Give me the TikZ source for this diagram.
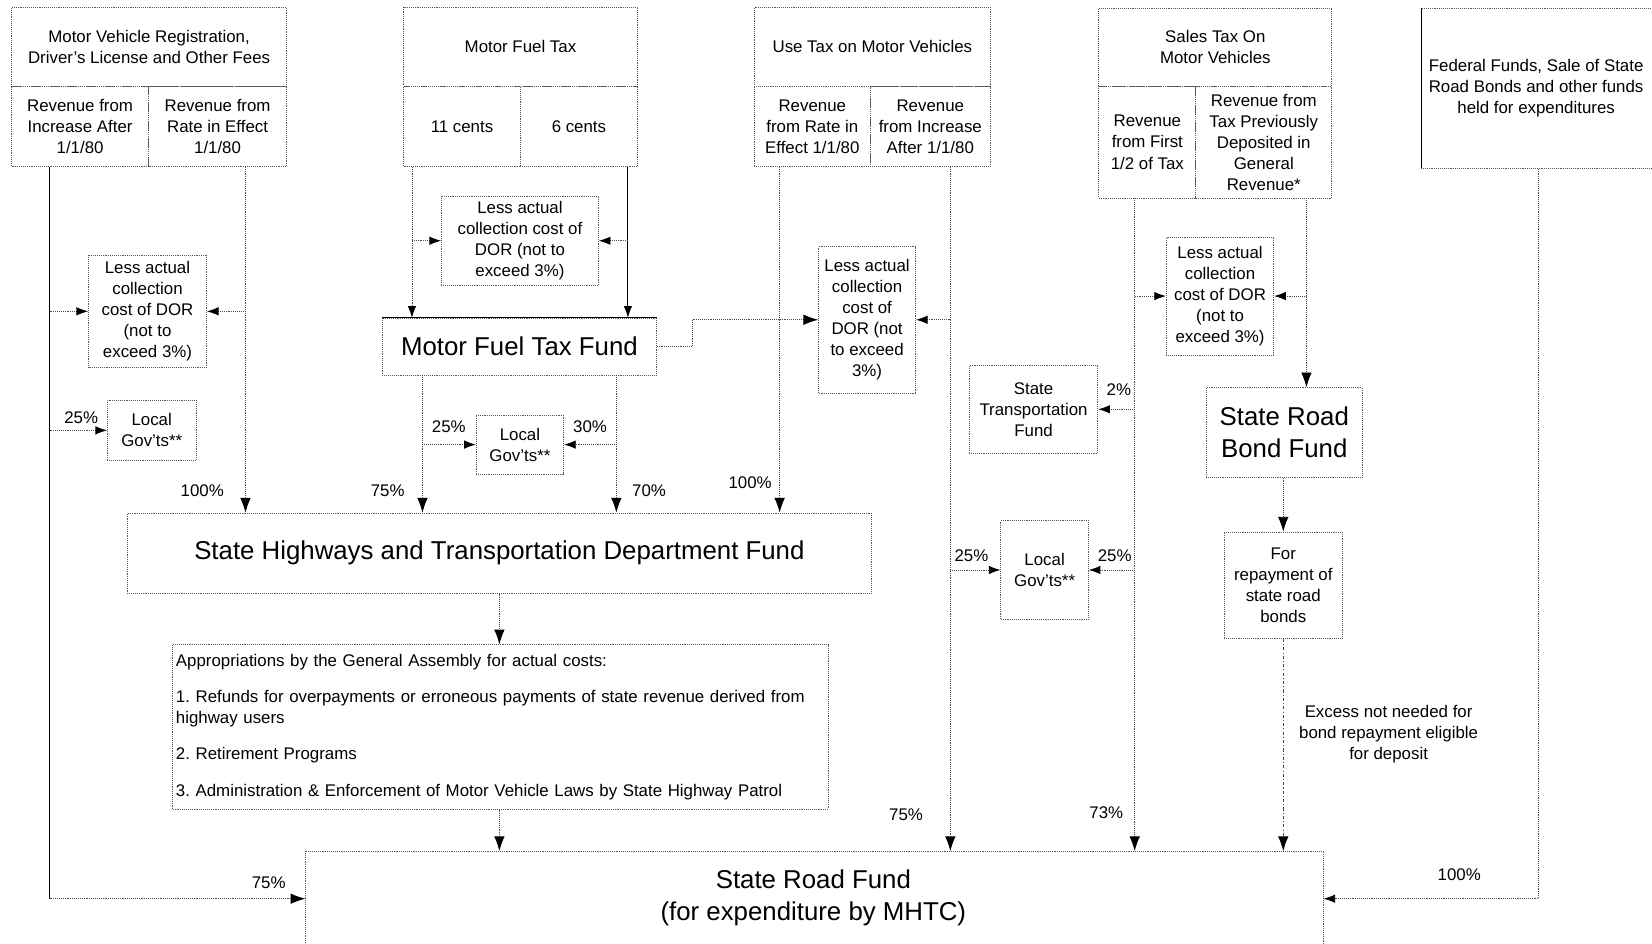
\documentclass[tikz,border=0pt]{standalone}
\usepackage{fontspec}
\setmainfont{Liberation Sans}
\usetikzlibrary{arrows.meta,calc}
\newcommand\smallfnt{\fontsize{16}{20}\selectfont}
\newcommand\bigfnt{\fontsize{24.5}{30}\selectfont}
\frenchspacing
\begin{document}
\begin{tikzpicture}[x=1pt,y=-1pt,
  bord/.style={draw=black!65, densely dotted, line width=0.8pt},
  box/.style={bord, inner sep=1pt, align=center, font=\smallfnt},
  bigbox/.style={bord, inner sep=1pt, align=center, font=\bigfnt},
  ln/.style={draw=black!70, densely dotted, line width=0.8pt},
  sl/.style={draw=black, line width=0.9pt},
  dd/.style={draw=black!70, line width=0.8pt, dash pattern=on 3pt off 2pt on 1pt off 2pt},
  arr/.style={-{Latex[length=14pt,width=10pt,color=black]}},
  sarr/.style={-{Latex[length=11pt,width=8pt,color=black]}},
  lbl/.style={font=\smallfnt, inner sep=0pt, align=center}]
\useasboundingbox (0,0) rectangle (1568,896);

% ---- header boxes
\node[box,minimum width=261,minimum height=75] (b1t) at (141.5,44.5) {Motor Vehicle Registration,\\Driver's License and Other Fees};
\node[box,minimum width=130,minimum height=76] (b1l) at (76,120) {Revenue from\\Increase After\\1/1/80};
\node[box,minimum width=131,minimum height=76] (b1r) at (206.5,120) {Revenue from\\Rate in Effect\\1/1/80};

\node[box,minimum width=222,minimum height=75] (b2t) at (494,44.5) {Motor Fuel Tax};
\node[box,minimum width=111,minimum height=76] (b2l) at (438.5,120) {11 cents};
\node[box,minimum width=111,minimum height=76] (b2r) at (549.5,120) {6 cents};

\node[box,minimum width=224,minimum height=75] (b3t) at (828,44.5) {Use Tax on Motor Vehicles};
\node[box,minimum width=110,minimum height=76] (b3l) at (771,120) {Revenue\\from Rate in\\Effect 1/1/80};
\node[box,minimum width=114,minimum height=76] (b3r) at (883,120) {Revenue\\from Increase\\After 1/1/80};

\node[box,minimum width=221,minimum height=74] (b4t) at (1153.5,45) {Sales Tax On\\Motor Vehicles};
\node[box,minimum width=92,minimum height=106] (b4l) at (1089,135) {Revenue\\from First\\1/2 of Tax};
\node[box,minimum width=129,minimum height=106] (b4r) at (1199.5,135) {Revenue from\\Tax Previously\\Deposited in\\General\\Revenue*};

\node[lbl,minimum width=218,minimum height=152] (b5) at (1458,84) {Federal Funds, Sale of State\\Road Bonds and other funds\\held for expenditures};
\draw[bord] ($(b5.north east)+(12,0)$) -- (b5.north west);
\draw[sl] (b5.north west) -- (b5.south west);
\draw[bord] (b5.south west) -- ($(b5.south east)+(12,0)$);

% ---- intermediate boxes
\node[box,minimum width=112,minimum height=107] (l1) at (140,295.5) {Less actual\\collection\\cost of DOR\\(not to\\exceed 3\%)};
\node[box,minimum width=84,minimum height=57] (g1) at (144,408.5) {Local\\Gov'ts**};
\node[box,minimum width=149,minimum height=85] (l2) at (493.5,228.5) {Less actual\\collection cost of\\DOR (not to\\exceed 3\%)};
\node[bigbox,minimum width=260,minimum height=54] (mf) at (493,329) {Motor Fuel Tax Fund};
\draw[sl] (mf.north west) -- (mf.north east);
\node[box,minimum width=83,minimum height=56] (g2) at (493.5,422) {Local\\Gov'ts**};
\node[box,minimum width=92,minimum height=139] (l3) at (823,303.5) {Less actual\\collection\\cost of\\DOR (not\\to exceed\\3\%)};
\node[box,minimum width=102,minimum height=112] (l4) at (1158,281) {Less actual\\collection\\cost of DOR\\(not to\\exceed 3\%)};
\node[box,minimum width=122,minimum height=83] (stf) at (981,388.5) {State\\Transportation\\Fund};
\node[bigbox,minimum width=148,minimum height=85] (srb) at (1219,410.5) {State Road\\Bond Fund};
\node[box,minimum width=112,minimum height=101] (rp) at (1218,555.5) {For\\repayment of\\state road\\bonds};
\node[box,minimum width=83,minimum height=94] (g3) at (991.5,541) {Local\\Gov'ts**};

\node[bigbox,minimum width=706,minimum height=76] (sh) at (474,525) {State Highways and Transportation Department Fund};
\node[box,minimum width=622,minimum height=156,align=left,inner xsep=3pt,text width=616] (ap) at (475,690) {Appropriations by the General Assembly for actual costs:\\[15pt]
1. Refunds for overpayments or erroneous payments of state revenue derived from\\highway users\\[14pt]
2. Retirement Programs\\[15pt]
3. Administration \& Enforcement of Motor Vehicle Laws by State Highway Patrol};

\node[minimum width=966,minimum height=130,inner sep=0] (srf) at (773,873) {};
\draw[bord] (srf.south west) -- (srf.north west) -- (srf.north east) -- (srf.south east);
\node[font=\bigfnt,align=center,inner sep=0] (srft) at (772,852) {State Road Fund\\(for expenditure by MHTC)};

% ---- line x positions
\coordinate (xa) at (47,853);
\coordinate (xb) at (233,0);
\coordinate (xc) at (391,0);
\coordinate (xd) at (596,0);
\coordinate (xe) at (401,0);
\coordinate (xf) at (585,0);
\coordinate (xg) at (657,0);
\coordinate (xh) at (740,0);
\coordinate (xi) at (902,0);
\coordinate (xj) at (1077,0);
\coordinate (xk) at (1240,0);
\coordinate (xl) at (1218,0);
\coordinate (xm) at (1460,853);
\coordinate (xn) at (474,0);

% ---- connectors
\draw[sl] (b1l.south -| xa) -- (xa);
\draw[ln,arr] (xa) -- (xa -| srf.west);
\draw[ln,sarr] (l1.west -| xa) -- (l1.west);
\draw[ln,sarr] (g1.west -| xa) -- (g1.west);
\draw[ln,arr] (b1r.south -| xb) -- (sh.north -| xb);
\draw[ln,sarr] (l1.east -| xb) -- (l1.east);

\draw[ln,sarr] (b2l.south -| xc) -- (mf.north -| xc);
\draw[ln,sarr] (l2.west -| xc) -- (l2.west);
\draw[sl,sarr] (b2r.south -| xd) -- (mf.north -| xd);
\draw[ln,sarr] (l2.east -| xd) -- (l2.east);

\draw[ln,arr] (mf.south -| xe) -- (sh.north -| xe);
\draw[ln,sarr] (g2.west -| xe) -- (g2.west);
\draw[ln,arr] (mf.south -| xf) -- (sh.north -| xf);
\draw[ln,sarr] (g2.east -| xf) -- (g2.east);
\draw[ln,arr] (mf.east) -- (mf.east -| xg) -- (l3.west -| xg) -- (l3.west);

\draw[ln,arr] (b3l.south -| xh) -- (sh.north -| xh);
\draw[ln,arr] (b3r.south -| xi) -- (srf.north -| xi);
\draw[ln,sarr] (l3.east -| xi) -- (l3.east);
\draw[ln,sarr] (g3.west -| xi) -- (g3.west);

\draw[ln,arr] (b4l.south -| xj) -- (srf.north -| xj);
\draw[ln,sarr] (l4.west -| xj) -- (l4.west);
\draw[ln,sarr] (stf.east -| xj) -- (stf.east);
\draw[ln,sarr] (g3.east -| xj) -- (g3.east);
\draw[ln,arr] (b4r.south -| xk) -- (srb.north -| xk);
\draw[ln,sarr] (l4.east -| xk) -- (l4.east);

\draw[ln,arr] (srb.south -| xl) -- (rp.north -| xl);
\draw[dd,arr] (rp.south -| xl) -- (srf.north -| xl);

\draw[ln] (b5.south -| xm) -- (xm);
\draw[ln,sarr] (xm) -- (xm -| srf.east);

\draw[ln,arr] (sh.south -| xn) -- (ap.north -| xn);
\draw[ln,arr] (ap.south -| xn) -- (srf.north -| xn);

% ---- labels
\node[lbl] (p1) at (77,396) {25\%};
\node[lbl] (p2) at (192,466) {100\%};
\node[lbl] (p3) at (255,838) {75\%};
\node[lbl] (p4) at (426,405) {25\%};
\node[lbl] (p5) at (560,405) {30\%};
\node[lbl] (p6) at (368,466) {75\%};
\node[lbl] (p7) at (616,466) {70\%};
\node[lbl] (p8) at (712,458) {100\%};
\node[lbl] (p9) at (860,773) {75\%};
\node[lbl] (p10) at (922,527) {25\%};
\node[lbl] (p11) at (1058,527) {25\%};
\node[lbl] (p12) at (1062,370) {2\%};
\node[lbl] (p13) at (1050,771) {73\%};
\node[lbl] (p14) at (1385,830) {100\%};
\node[lbl] (p15) at (1318,697) {Excess not needed for\\bond repayment eligible\\for deposit};
\end{tikzpicture}
\end{document}
